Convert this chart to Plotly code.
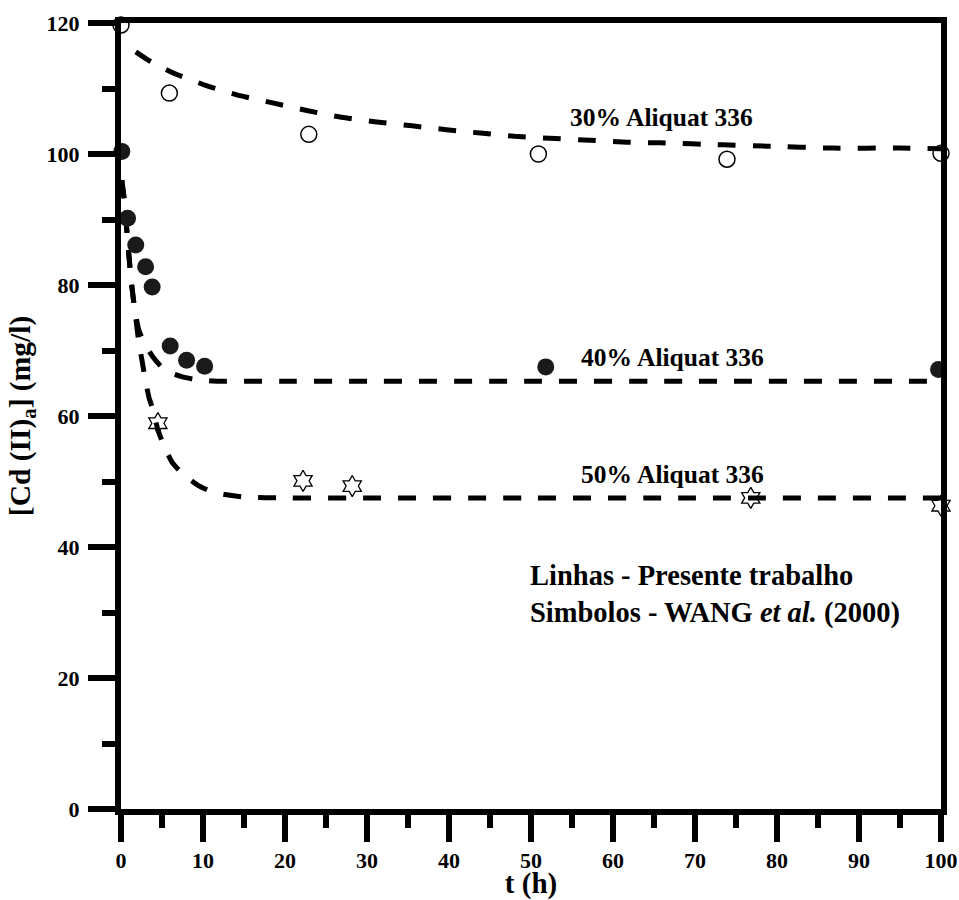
import plotly.graph_objects as go

# --- data ---
# symbols (WANG et al., 2000)
t_30 = [0, 5.9, 22.9, 50.9, 73.9, 100]
c_30 = [119.7, 109.3, 103.0, 100.0, 99.2, 100.1]

t_40 = [0.1, 0.8, 1.8, 3.0, 3.8, 6.0, 8.0, 10.2, 51.8, 99.7]
c_40 = [100.4, 90.2, 86.1, 82.8, 79.7, 70.7, 68.5, 67.6, 67.5, 67.1]

t_50 = [4.5, 22.2, 28.2, 76.8, 100]
c_50 = [58.9, 50.1, 49.3, 47.5, 46.3]

# lines (present work)
lt_30 = [1.8, 3.5, 6.3, 10.5, 14.5, 18.5, 22.8, 26.9, 31.2, 35.5, 39.7, 43.8,
         48.0, 52.3, 57.2, 61.7, 65.7, 73.4, 78.8, 86.8, 95.0, 100]
lc_30 = [115.6, 114.2, 112.4, 110.4, 108.9, 107.8, 106.6, 105.6, 104.9, 104.3,
         103.7, 103.2, 102.7, 102.4, 102.1, 101.8, 101.7, 101.4, 101.2, 100.9,
         100.9, 100.8]

lt_40 = [0.1, 0.4, 0.7, 1.0, 1.3, 1.7, 2.2, 2.9, 3.9, 5.0, 6.0, 7.4, 9.4, 12,
         15, 20, 30, 50, 70, 100]
lc_40 = [96, 93, 88.5, 84, 80, 76, 73, 71, 69, 67.4, 66.6, 66.0, 65.5, 65.3,
         65.3, 65.3, 65.3, 65.3, 65.3, 65.3]

lt_50 = [0.1, 0.4, 0.7, 1.0, 1.3, 1.7, 2.2, 2.6, 2.9, 3.4, 3.9, 4.5, 5.1, 6.2,
         7.4, 9.3, 11.1, 13.3, 15.1, 20, 30, 50, 70, 100]
lc_50 = [96, 93, 88.5, 84, 80, 76, 71, 68.2, 66, 62.9, 60.9, 57.9, 55.9, 53,
         51.3, 49.5, 48.4, 47.9, 47.6, 47.5, 47.5, 47.5, 47.5, 47.5]

labels = ["30% Aliquat 336", "40% Aliquat 336", "50% Aliquat 336"]
label_x = [65.9, 67.3, 67.3]
label_y = [105.5, 68.9, 51.0]

x_ticks = list(range(0, 101, 10))
y_ticks = list(range(0, 121, 20))

FONT = "Liberation Serif"
dash = "18px,17px"

fig = go.Figure()
for lx, ly in [(lt_30, lc_30), (lt_40, lc_40), (lt_50, lc_50)]:
    fig.add_trace(go.Scatter(x=lx, y=ly, mode="lines",
                             line=dict(color="black", width=5, dash=dash,
                                       shape="spline", smoothing=0.5),
                             showlegend=False, hoverinfo="skip"))

fig.add_trace(go.Scatter(x=t_30, y=c_30, mode="markers", cliponaxis=False,
                         marker=dict(symbol="circle-open", size=16, color="black",
                                     line=dict(width=1.5, color="black")),
                         showlegend=False))
fig.add_trace(go.Scatter(x=t_40, y=c_40, mode="markers", cliponaxis=False,
                         marker=dict(symbol="circle", size=17, color="#1a1a1a",
                                     line=dict(width=0)),
                         showlegend=False))
fig.add_trace(go.Scatter(x=t_50, y=c_50, mode="markers", cliponaxis=False,
                         marker=dict(symbol="hexagram-open", size=16, color="black",
                                     line=dict(width=1.3, color="black")),
                         showlegend=False))

for txt, ax_, ay_ in zip(labels, label_x, label_y):
    fig.add_annotation(x=ax_, y=ay_, text="<b>" + txt + "</b>", showarrow=False,
                       xanchor="center", yanchor="middle",
                       font=dict(family=FONT, size=25.5, color="black"))

fig.add_annotation(x=49.6, y=32.8, xanchor="left", yanchor="middle", align="left",
                   showarrow=False,
                   text="<b>Linhas - Presente trabalho<br>Simbolos - WANG <i>et al.</i> (2000)</b>",
                   font=dict(family=FONT, size=28.5, color="black"))

axis_common = dict(showline=True, linewidth=6, linecolor="black", mirror=True,
                   showgrid=False, zeroline=False, ticks="outside", ticklen=27,
                   tickwidth=6, tickcolor="black", automargin=False,
                   ticklabeloverflow="allow", tickmode="linear",
                   tickfont=dict(family=FONT, size=22, color="black", weight="bold"))

fig.update_xaxes(range=[0, 100], tick0=x_ticks[0], dtick=x_ticks[1] - x_ticks[0],
                 minor=dict(ticks="outside", ticklen=13, tickwidth=6, tickcolor="black",
                            dtick=(x_ticks[1] - x_ticks[0]) / 2, tick0=0),
                 title=dict(text="<b>t (h)</b>", font=dict(family=FONT, size=29, color="black"), standoff=8),
                 **axis_common)
fig.update_yaxes(range=[0, 120], tick0=y_ticks[0], dtick=y_ticks[1] - y_ticks[0],
                 ticklabelstandoff=4,
                 minor=dict(ticks="outside", ticklen=13, tickwidth=6, tickcolor="black",
                            dtick=(y_ticks[1] - y_ticks[0]) / 2, tick0=0),
                 title=dict(text="<b>[Cd (II)<sub>a</sub>] (mg/l)</b>", font=dict(family=FONT, size=29.5, color="black"), standoff=9),
                 **axis_common)

fig.update_layout(width=959, height=900, plot_bgcolor="white", paper_bgcolor="white",
                  margin=dict(l=121, r=18, t=23, b=91), showlegend=False)

# remove the page's default 8 px body margin so the 959x900 figure fills the window exactly
fig.write_html("out.html", config={"displayModeBar": False},
               post_script="document.body.style.margin='0';")
